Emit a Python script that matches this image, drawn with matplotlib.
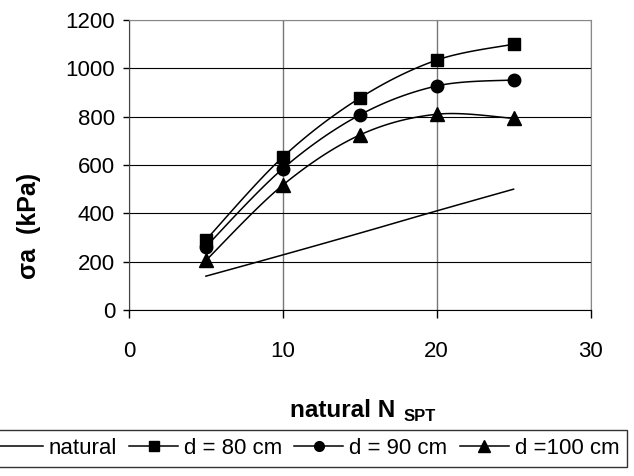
import numpy as np
import matplotlib
matplotlib.use('Agg')
import matplotlib.pyplot as plt

plt.rcParams['font.family'] = ['Liberation Sans', 'DejaVu Sans']

# data
n_spt = [5, 10, 15, 20, 25]
natural = [140, 228, 318, 410, 500]
d80 = [290, 633, 877, 1034, 1100]
d90 = [262, 585, 807, 927, 952]
d100 = [205, 517, 724, 810, 793]

x_ticks = [0, 10, 20, 30]
y_ticks = [0, 200, 400, 600, 800, 1000, 1200]


def smooth(x, y, n=30):
    # Excel style smoothed line (catmull-rom through the points)
    x = np.asarray(x, float)
    y = np.asarray(y, float)
    px = np.concatenate([[x[0]], x, [x[-1]]])
    py = np.concatenate([[y[0]], y, [y[-1]]])
    xs, ys = [], []
    t = np.linspace(0, 1, n)
    for i in range(1, len(px) - 2):
        p0, p1, p2, p3 = [np.array([px[j], py[j]]) for j in (i - 1, i, i + 1, i + 2)]
        c1 = p1 + (p2 - p0) / 6
        c2 = p2 - (p3 - p1) / 6
        pts = ((1 - t) ** 3)[:, None] * p1 + (3 * (1 - t) ** 2 * t)[:, None] * c1 \
            + (3 * (1 - t) * t ** 2)[:, None] * c2 + (t ** 3)[:, None] * p2
        xs.extend(pts[:, 0])
        ys.extend(pts[:, 1])
    return xs, ys


fig = plt.figure(figsize=(6.34, 4.76), dpi=100)
ax = fig.add_axes([129 / 634, 1 - 310 / 476, 461.5 / 634, 290 / 476])

lw = 1.1
sx, sy = smooth(n_spt, natural)
ax.plot(sx, sy, color='black', lw=lw)
series = [(d80, 's', 9), (d90, 'o', 9), (d100, '^', 10)]
for vals, mk, ms in series:
    sx, sy = smooth(n_spt, vals)
    ax.plot(sx, sy, color='black', lw=lw)
    ax.plot(n_spt, vals, linestyle='none', marker=mk, ms=ms, color='black')

ax.set_xlim(0, 30)
ax.set_ylim(0, 1200)
ax.set_xticks(x_ticks)
ax.set_yticks(y_ticks)
ax.tick_params(axis='x', direction='out', length=6, width=1, pad=16, labelsize=16)
ax.tick_params(axis='y', direction='out', length=4, width=1, pad=6, labelsize=16)
ax.yaxis.grid(True, color='black', lw=0.8)
ax.xaxis.grid(True, color='#777777', lw=1.0)
ax.set_axisbelow(True)
for s in ['top', 'right']:
    ax.spines[s].set_color('#888888')
ax.spines['left'].set_color('#444444')
ax.spines['bottom'].set_color('black')

ax.set_ylabel('σa  (kPa)', fontsize=18, fontweight='bold')
ax.yaxis.set_label_coords(-0.19, 0.29)

ax.text(0.576, -0.369, 'natural N', transform=ax.transAxes, ha='right', va='baseline',
        fontsize=17.5, fontweight='bold')
ax.text(0.5958, -0.383, 'SPT', transform=ax.transAxes, ha='left', va='baseline',
        fontsize=12, fontweight='bold')

h1, = ax.plot([], [], color='black', lw=lw)
h2, = ax.plot([], [], color='black', lw=lw, marker='s', ms=7)
h3, = ax.plot([], [], color='black', lw=lw, marker='o', ms=7)
h4, = ax.plot([], [], color='black', lw=lw, marker='^', ms=8)
leg = fig.legend([h1, h2, h3, h4], ['natural', 'd = 80 cm', 'd = 90 cm', 'd =100 cm'],
                 ncol=4, loc='upper right', bbox_to_anchor=(627 / 634, 1 - 430 / 476),
                 borderaxespad=0, fontsize=16, frameon=True, fancybox=False,
                 edgecolor='black', handlelength=2.2, handletextpad=0.27,
                 columnspacing=0.55, borderpad=0.35)
leg.get_frame().set_linewidth(1.0)

fig.savefig('out.png', dpi=100)
